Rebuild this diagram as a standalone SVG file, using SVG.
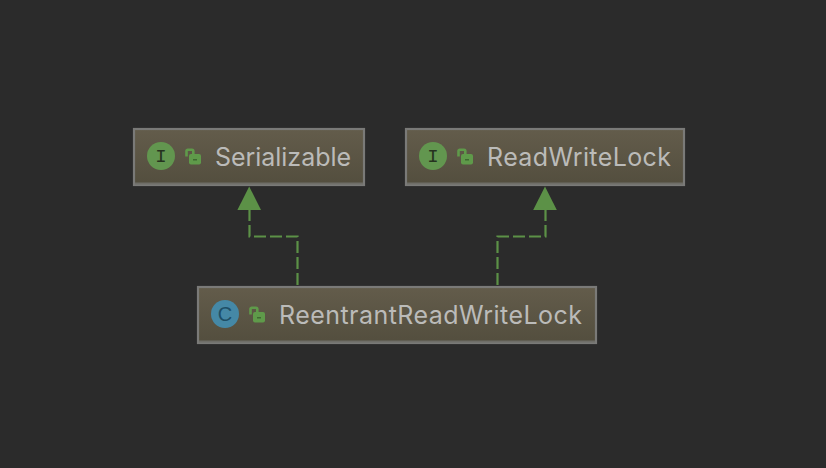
<svg xmlns="http://www.w3.org/2000/svg" width="826" height="468" viewBox="0 0 826 468">
<style>
.box{fill:url(#nodeFill);stroke:#7a7a78;stroke-width:2.2}
.rim{fill:none;stroke:#6f6e68;stroke-width:2}
.lbl{font-family:"Inter","Liberation Sans",sans-serif;font-size:25px;fill:#bbbbb9}
.edge{fill:none;stroke:#5c9147;stroke-width:2.2;stroke-dasharray:12 4}
.head{fill:#5c9147}
.ci{fill:#62964f}
.cc{fill:#4588a6}
.glyph{font-family:"Liberation Mono",monospace;font-size:19px;text-anchor:middle;fill:#26331f}
.glyphc{font-family:"Liberation Sans",sans-serif;font-size:20px;text-anchor:middle;fill:#1e4f66}
.lockb{fill:#5f9a4a}
.locks{fill:none;stroke:#5f9a4a;stroke-width:2.6}
.lockk{fill:#3f6a31}
</style>
<defs>
<linearGradient id="nodeFill" x1="0" y1="0" x2="0" y2="1">
<stop offset="0" stop-color="#635c4b"/>
<stop offset="1" stop-color="#534e3e"/>
</linearGradient>
<g id="lock">
<path class="locks" d="M1.500 8V2.500Q1.500 1.300 2.800 1.300H7Q8.300 1.300 8.300 2.500V6"/>
<rect class="lockb" x="4" y="5.500" width="12" height="10.500" rx="2"/>
<rect class="lockk" x="8" y="10.500" width="4" height="1.500"/>
</g>
</defs>
<rect width="826" height="468" fill="#2b2b2b"/>
<g id="connectors">
<path class="edge" d="M297.500 285V236.500H249.500V208"/>
<path class="edge" d="M497.500 285V236.500H545.500V208"/>
<polygon class="head" points="249.200,186.500 261,210 237.400,210"/>
<polygon class="head" points="545,186.500 556.800,210 533.200,210"/>
</g>
<g id="node-serializable">
<rect class="box" x="134" y="129" width="230" height="56"/>
<path class="rim" d="M135 183.500H363"/>
<circle class="ci" cx="161" cy="156" r="14"/>
<text class="glyph" x="161" y="162">I</text>
<use href="#lock" x="185" y="148.500"/>
<text class="lbl" x="215" y="166" textLength="136" lengthAdjust="spacing">Serializable</text>
</g>
<g id="node-readwritelock">
<rect class="box" x="406" y="129" width="278" height="56"/>
<path class="rim" d="M407 183.500H683"/>
<circle class="ci" cx="433" cy="156" r="14"/>
<text class="glyph" x="433" y="162">I</text>
<use href="#lock" x="457" y="148.500"/>
<text class="lbl" x="487" y="166" textLength="184" lengthAdjust="spacing">ReadWriteLock</text>
</g>
<g id="node-reentrantreadwritelock">
<rect class="box" x="198" y="287" width="398" height="56"/>
<path class="rim" d="M199 341.500H595"/>
<circle class="cc" cx="225" cy="314" r="14"/>
<text class="glyphc" x="225" y="321">C</text>
<use href="#lock" x="249" y="306.500"/>
<text class="lbl" x="279" y="324" textLength="303" lengthAdjust="spacing">ReentrantReadWriteLock</text>
</g>
</svg>
